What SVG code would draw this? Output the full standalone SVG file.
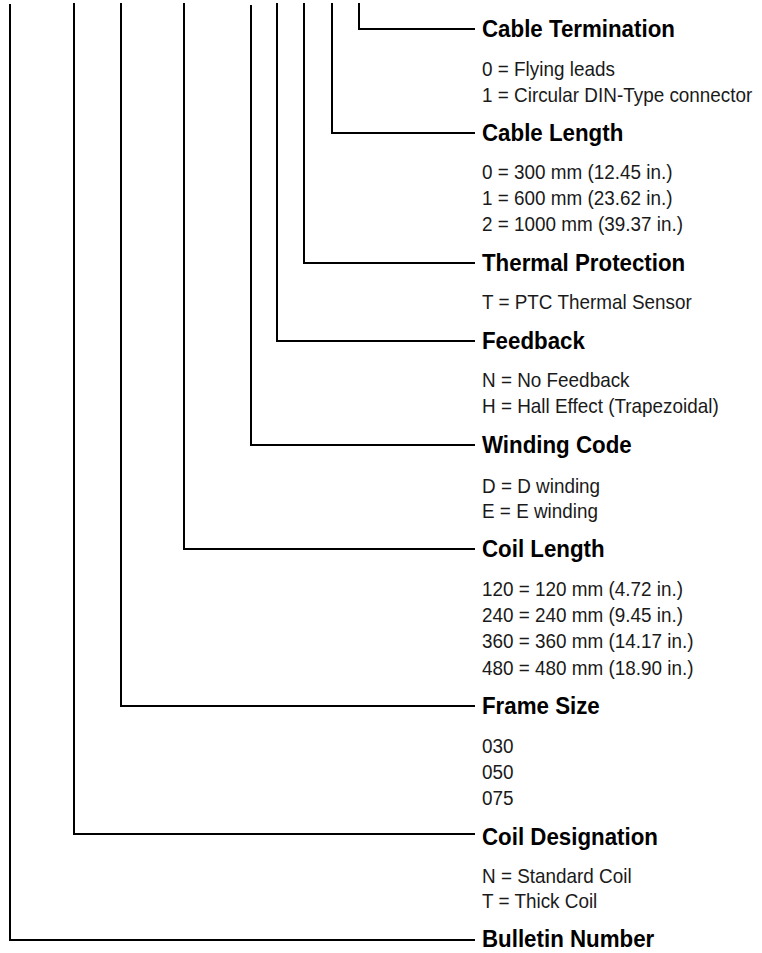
<svg xmlns="http://www.w3.org/2000/svg" width="762" height="953" viewBox="0 0 762 953">
<style>
.h{font-family:"Liberation Sans",Arial,sans-serif;font-weight:bold;font-size:24px;fill:#000}
.t{font-family:"Liberation Sans",Arial,sans-serif;font-size:21px;fill:#1a1a1a}
.c{fill:none;stroke:#000;stroke-width:2;stroke-linejoin:miter;stroke-linecap:butt}
</style>
<rect width="762" height="953" fill="#fff"/>
<g id="connectors">
<path class="c" d="M359 3V29H475"/>
<path class="c" d="M332 3V133H475"/>
<path class="c" d="M304 3V263H475"/>
<path class="c" d="M277 3V341H475"/>
<path class="c" d="M251 5V445H475"/>
<path class="c" d="M184 3V549H475"/>
<path class="c" d="M121 3V706H475"/>
<path class="c" d="M74 3V834H475"/>
<path class="c" d="M10 4V940H475"/>
</g>
<g id="cable-termination">
<text class="h" transform="translate(482 37) scale(.93 1)">Cable Termination</text>
<text class="t" transform="translate(482 76) scale(.9 1)">0 = Flying leads</text>
<text class="t" transform="translate(482 102) scale(.9 1)">1 = Circular DIN-Type connector</text>
</g>
<g id="cable-length">
<text class="h" transform="translate(482 141) scale(.93 1)">Cable Length</text>
<text class="t" transform="translate(482 179) scale(.9 1)">0 = 300 mm (12.45 in.)</text>
<text class="t" transform="translate(482 205) scale(.9 1)">1 = 600 mm (23.62 in.)</text>
<text class="t" transform="translate(482 231) scale(.9 1)">2 = 1000 mm (39.37 in.)</text>
</g>
<g id="thermal-protection">
<text class="h" transform="translate(482 271) scale(.93 1)">Thermal Protection</text>
<text class="t" transform="translate(482 309) scale(.9 1)">T = PTC Thermal Sensor</text>
</g>
<g id="feedback">
<text class="h" transform="translate(482 349) scale(.93 1)">Feedback</text>
<text class="t" transform="translate(482 387) scale(.9 1)">N = No Feedback</text>
<text class="t" transform="translate(482 413) scale(.9 1)">H = Hall Effect (Trapezoidal)</text>
</g>
<g id="winding-code">
<text class="h" transform="translate(482 453) scale(.93 1)">Winding Code</text>
<text class="t" transform="translate(482 493) scale(.9 1)">D = D winding</text>
<text class="t" transform="translate(482 518) scale(.9 1)">E = E winding</text>
</g>
<g id="coil-length">
<text class="h" transform="translate(482 557) scale(.93 1)">Coil Length</text>
<text class="t" transform="translate(482 596) scale(.9 1)">120 = 120 mm (4.72 in.)</text>
<text class="t" transform="translate(482 622) scale(.9 1)">240 = 240 mm (9.45 in.)</text>
<text class="t" transform="translate(482 648) scale(.9 1)">360 = 360 mm (14.17 in.)</text>
<text class="t" transform="translate(482 675) scale(.9 1)">480 = 480 mm (18.90 in.)</text>
</g>
<g id="frame-size">
<text class="h" transform="translate(482 714) scale(.93 1)">Frame Size</text>
<text class="t" transform="translate(482 753) scale(.9 1)">030</text>
<text class="t" transform="translate(482 779) scale(.9 1)">050</text>
<text class="t" transform="translate(482 805) scale(.9 1)">075</text>
</g>
<g id="coil-designation">
<text class="h" transform="translate(482 845) scale(.93 1)">Coil Designation</text>
<text class="t" transform="translate(482 883) scale(.9 1)">N = Standard Coil</text>
<text class="t" transform="translate(482 908) scale(.9 1)">T = Thick Coil</text>
</g>
<g id="bulletin-number">
<text class="h" transform="translate(482 947) scale(.93 1)">Bulletin Number</text>
</g>
</svg>
